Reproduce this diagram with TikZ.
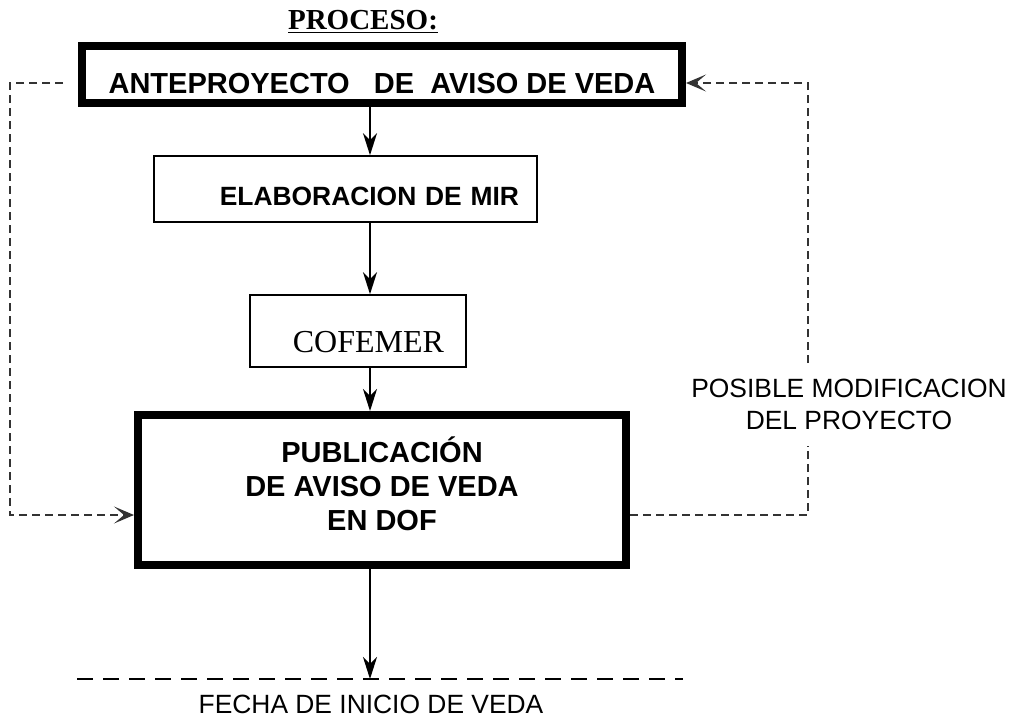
\documentclass[tikz,border=0pt]{standalone}
\usepackage{fontspec}
\setmainfont{Liberation Sans}
\newfontfamily\serifface{Liberation Serif}
\usetikzlibrary{arrows.meta,positioning}
\definecolor{LoopGray}{HTML}{333333}

\begin{document}
\begin{tikzpicture}[x=1pt,y=-1pt,
  heavybox/.style={draw,line width=8pt,inner sep=0pt,align=center,
    font=\bfseries\fontsize{29}{34}\selectfont},
  thinbox/.style={draw,line width=1.6pt,inner ysep=0pt,align=right,text depth=0pt,
    font=\bfseries\fontsize{26.4}{32}\selectfont},
  flow/.style={-{Stealth[length=22pt,width=14pt,inset=7pt]},line width=2pt},
  revise/.style={draw=LoopGray,line width=1.3pt,dash pattern=on 8pt off 5pt},
  revisehead/.style={-{Stealth[length=20pt,width=17pt,inset=10pt]}},
  datum/.style={line width=2.5pt,dash pattern=on 16pt off 10pt},
  note/.style={font=\fontsize{26.4}{32}\selectfont,align=center}
]
\useasboundingbox (0,0) rectangle (1014,717);
\coordinate (axis) at (370,0);
\coordinate (lx) at (10,0);
\coordinate (rx) at (808,0);

\node[anchor=base,font=\serifface\bfseries\fontsize{29}{34}\selectfont] (title) at (363,30) {\underline{PROCESO:}};

\node[heavybox,minimum width=600pt,minimum height=57pt,text height=37pt,text depth=0pt] (ante) at (382,74.5)
  {ANTEPROYECTO\ \ \ DE\ \ AVISO DE VEDA};
\node[thinbox,minimum width=383pt,minimum height=66pt,text width=347pt,inner xsep=18pt,text height=32pt] (mir) at (345.5,189)
  {ELABORACION DE MIR};
\node[thinbox,minimum width=216pt,minimum height=72pt,text width=172pt,inner xsep=22pt,text height=42pt,
  font=\serifface\fontsize{32}{38}\selectfont] (cofemer) at (358,331) {COFEMER};
\node[heavybox,minimum width=488pt,minimum height=150pt,text height=80pt,text depth=0pt] (pub) at (382,490)
  {PUBLICACIÓN\\DE AVISO DE VEDA\\EN DOF};

\node[note,inner ysep=16pt,inner xsep=0pt,outer sep=0pt] (modif) at (849,404.5) {POSIBLE MODIFICACION\\DEL PROYECTO};

\coordinate (mark) at (370,679);
\coordinate (dl) at (77,679);
\coordinate (dr) at (683,679);
\node[note,anchor=base] (fecha) at (371,713) {FECHA DE INICIO DE VEDA};

% main flow
\draw[flow] (ante.south -| axis) -- (mir.north -| axis);
\draw[flow] (mir.south -| axis) -- (cofemer.north -| axis);
\draw[flow] (cofemer.south -| axis) -- (pub.north -| axis);
\draw[flow] (pub.south -| axis) -- (mark);
\draw[datum] (dl) -- (dr);

% revision loops
\draw[revise,revisehead] ([xshift=-15pt,yshift=-8.5pt]ante.west) -| ([yshift=-25pt]lx |- pub.west) -- ([yshift=-25pt]pub.west);
\draw[revise] ([yshift=-25pt]pub.east) -| (rx |- modif.south);
\draw[revise,revisehead] (rx |- modif.north) |- ([yshift=-8.5pt]ante.east);
\end{tikzpicture}
\end{document}
